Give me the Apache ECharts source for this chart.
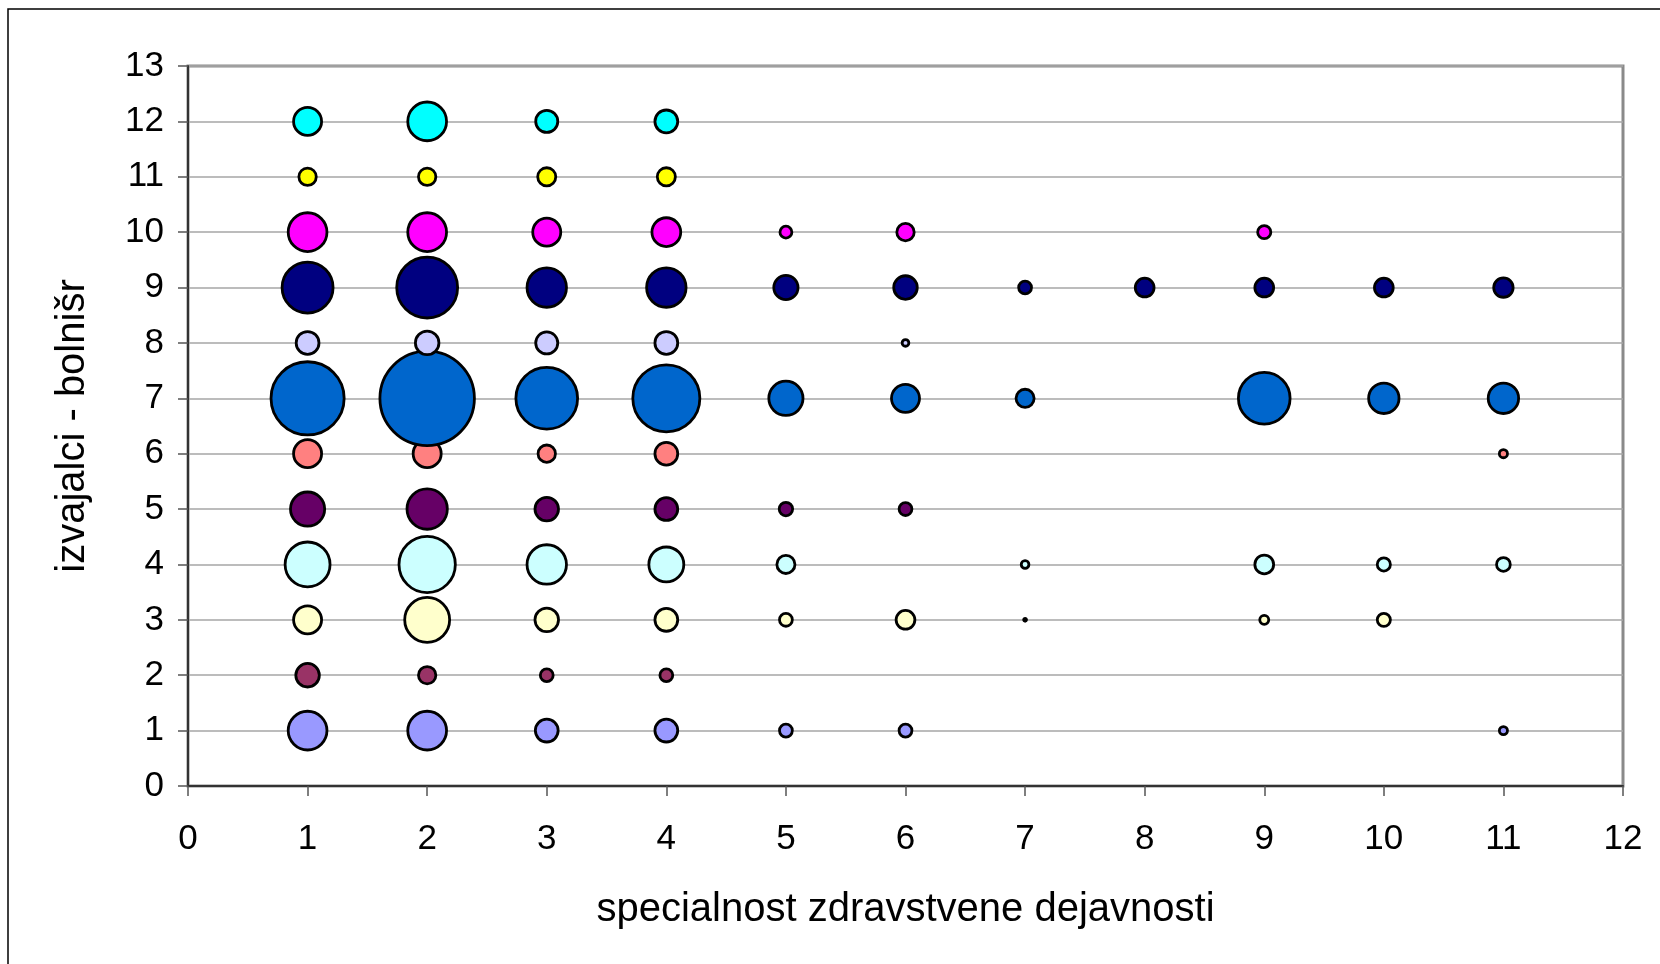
<!DOCTYPE html>
<html>
<head>
<meta charset="utf-8">
<title>izvajalci - bolnišr</title>
<script src="https://cdn.jsdelivr.net/npm/echarts@6/dist/echarts.min.js"></script>
<style>
  html, body { margin: 0; padding: 0; background: #fff; }
  #main { width: 1660px; height: 964px; }
</style>
</head>
<body>
<div id="main"></div>
<script>
// specialnost (x) 1..11
var specialnosti = [1, 2, 3, 4, 5, 6, 7, 8, 9, 10, 11];

// velikost mehurčkov po vrsticah (izvajalci 1..12), null = ni podatka
var izv1  = [18.1, 18.1, 6.8, 6.8, 2.5, 2.5, null, null, null, null, 1.2];
var izv2  = [7.2, 4.2, 2.5, 2.5, null, null, null, null, null, null, null];
var izv3  = [9.9, 23.9, 7.2, 6.8, 2.5, 4.8, 0.3, null, 1.4, 2.6, null];
var izv4  = [23.9, 36.8, 18.7, 14.9, 4.5, null, 1.1, null, 4.8, 2.6, 2.8];
var izv5  = [14.3, 19.5, 7.2, 6.8, 2.7, 2.5, null, null, null, null, null];
var izv6  = [9.9, 9.9, 4.2, 6.8, null, null, null, null, null, null, 1.2];
var izv7  = [60.8, 100, 43.8, 51.4, 14.3, 9.9, 4.5, null, 31.2, 11.5, 11.5];
var izv8  = [6.8, 7.2, 6.4, 6.8, null, 0.9, null, null, null, null, null];
var izv9  = [30.4, 42.7, 18.7, 18.7, 7.6, 7.2, 2.5, 4.8, 4.8, 4.8, 5.1];
var izv10 = [18.1, 18.1, 9.9, 10.4, 2.2, 4.2, null, null, 2.6, null, null];
var izv11 = [4.2, 4.2, 4.5, 4.5, null, null, null, null, null, null, null];
var izv12 = [9.9, 18.1, 6.4, 6.8, null, null, null, null, null, null, null];

var vrstice = [izv1, izv2, izv3, izv4, izv5, izv6, izv7, izv8, izv9, izv10, izv11, izv12];
var barve = ['#9999FF', '#993366', '#FFFFCC', '#CCFFFF', '#660066', '#FF8080',
             '#0066CC', '#CCCCFF', '#000080', '#FF00FF', '#FFFF00', '#00FFFF'];

var yTicks = [0, 1, 2, 3, 4, 5, 6, 7, 8, 9, 10, 11, 12, 13];
var xTicks = [0, 1, 2, 3, 4, 5, 6, 7, 8, 9, 10, 11, 12];

var maxVel = 100;
var maxPremer = 97;

var chart = echarts.init(document.getElementById('main'));

var series = vrstice.map(function (vr, i) {
  var data = [];
  vr.forEach(function (v, j) {
    if (v != null) data.push([specialnosti[j], i + 1, v]);
  });
  return {
    name: 'izv' + (i + 1),
    type: 'scatter',
    data: data,
    symbol: 'circle',
    symbolSize: function (val) {
      return Math.max(2.5, maxPremer * Math.sqrt(val[2] / maxVel) - 2.5);
    },
    itemStyle: { color: barve[i], borderColor: '#000', borderWidth: 2.8, opacity: 1 },
    emphasis: { disabled: true },
    animation: false
  };
});

var option = {
  backgroundColor: '#fff',
  textStyle: { fontFamily: 'Liberation Sans, Arial, sans-serif' },
  graphic: [{
    type: 'rect',
    shape: { x: 8, y: 9, width: 1700, height: 1000 },
    style: { fill: 'none', stroke: '#000', lineWidth: 1.5 },
    silent: true,
    z: -10
  }],
  grid: {
    left: 188, right: 37, top: 66, bottom: 178,
    show: true, borderColor: '#8a8a8a', borderWidth: 3, backgroundColor: '#fff'
  },
  xAxis: {
    type: 'value', min: xTicks[0], max: xTicks[xTicks.length - 1], interval: 1,
    name: 'specialnost zdravstvene dejavnosti',
    nameLocation: 'middle', nameGap: 104,
    nameTextStyle: { fontSize: 40, color: '#000', fontFamily: 'Liberation Sans, Arial' },
    axisLine: { onZero: false, lineStyle: { color: '#333', width: 2 } },
    axisTick: { show: true, length: 10, lineStyle: { color: '#555', width: 1.5 } },
    axisLabel: { fontSize: 35, color: '#000', margin: 36, fontFamily: 'Liberation Sans, Arial' },
    splitLine: { show: false }
  },
  yAxis: {
    type: 'value', min: yTicks[0], max: yTicks[yTicks.length - 1], interval: 1,
    name: 'izvajalci - bolnišr',
    nameLocation: 'middle', nameGap: 95, nameRotate: 90,
    nameTextStyle: { fontSize: 40, color: '#000', fontFamily: 'Liberation Sans, Arial' },
    axisLine: { onZero: false, lineStyle: { color: '#333', width: 2 } },
    axisTick: { show: true, length: 10, lineStyle: { color: '#555', width: 1.5 } },
    axisLabel: { fontSize: 35, color: '#000', margin: 24, fontFamily: 'Liberation Sans, Arial' },
    splitLine: { show: true, lineStyle: { color: '#a6a6a6', width: 1.5 } }
  },
  series: series
};

chart.setOption(option);
</script>
</body>
</html>
